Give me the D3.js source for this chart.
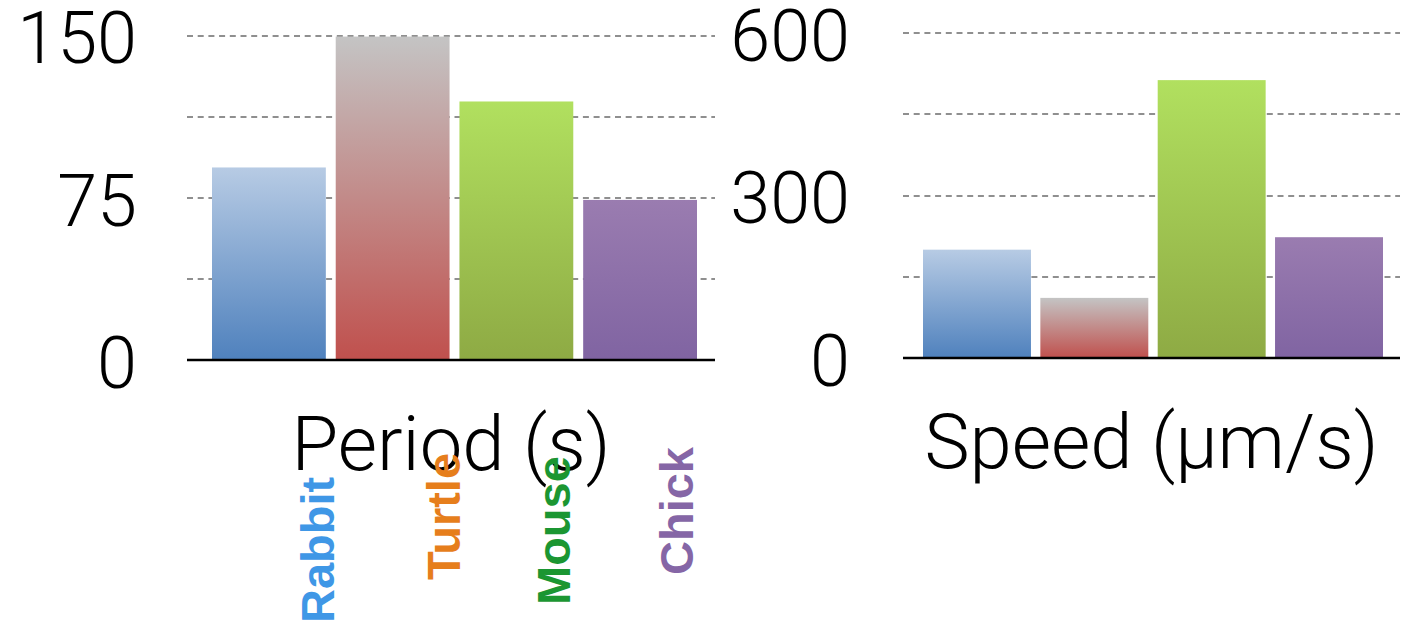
<!DOCTYPE html>
<html>
<head>
<meta charset="utf-8">
<script src="https://cdn.jsdelivr.net/npm/d3@7"></script>
<style>
  body { margin: 0; background: #fff; }
  .tick text { font-family: "Roboto", "Liberation Sans", sans-serif; font-weight: 300; }
</style>
</head>
<body>
<div id="chart"></div>
<script>
// values
const species = ["Rabbit", "Turtle", "Mouse", "Chick"];
const period = [89, 149.5, 119.5, 74];
const speed = [200, 111, 513, 223];
const periodTicks = [0, 75, 150];
const periodGrid = [0, 37.5, 75, 112.5, 150];
const speedTicks = [0, 300, 600];
const speedGrid = [0, 150, 300, 450, 600];
const labelColors = ["#3f97e6", "#e67e1c", "#1b9632", "#8566a6"];
const barColors = [
    ["#b7cbe4", "#4f81bd"],
    ["#c4c4c4", "#c0504d"],
    ["#b1e05f", "#8eaa44"],
    ["#9a7cb0", "#8064a2"]
];
// small layout nudges for the rotated species names (baseline x from band centre, start y)
const labelDx = [65, 67, 54, 53];
const labelY = [623, 580, 605, 575];

let width = 1403,
    height = 627;

let svg = d3.select("#chart")
    .append("svg")
    .attr("width", width)
    .attr("height", height);

let defs = svg.append("defs");
barColors.forEach(function (c, i) {
    let g = defs.append("linearGradient")
        .attr("id", "grad" + i)
        .attr("x1", 0).attr("y1", 0)
        .attr("x2", 0).attr("y2", 1);
    g.append("stop").attr("offset", "0%").attr("stop-color", c[0]);
    g.append("stop").attr("offset", "100%").attr("stop-color", c[1]);
});

function panel(opts) {
    let x = d3.scaleBand()
        .domain(species)
        .range(opts.barRange)
        .paddingInner(0.08)
        .paddingOuter(0);

    let y = d3.scaleLinear()
        .domain([0, opts.max])
        .range(opts.yRange);

    // dashed gridlines, snapped to whole pixels
    svg.append("g")
        .attr("transform", "translate(" + opts.left + ",0)")
        .call(d3.axisLeft(y).tickValues(opts.grid).tickSize(-(opts.right - opts.left)).tickFormat("").offset(0))
        .call(function (g) { g.select(".domain").remove(); })
        .call(function (g) {
            g.selectAll(".tick").attr("transform", function (d) {
                return "translate(0," + Math.round(y(d)) + ")";
            });
        })
        .selectAll(".tick line")
        .style("stroke", "#8f8f8f")
        .style("stroke-width", 2)
        .style("stroke-dasharray", "6,4.7");

    // bars
    svg.append("g")
        .selectAll("rect")
        .data(opts.values)
        .enter()
        .append("rect")
        .attr("x", function (d, i) { return x(species[i]); })
        .attr("width", x.bandwidth())
        .attr("y", function (d) { return y(d); })
        .attr("height", function (d) { return y(0) - y(d); })
        .style("fill", function (d, i) { return "url(#grad" + i + ")"; });

    // baseline
    svg.append("line")
        .attr("x1", opts.left)
        .attr("x2", opts.right)
        .attr("y1", y(0))
        .attr("y2", y(0))
        .style("stroke", "#000")
        .style("stroke-width", 2.6);

    // tick labels
    svg.append("g")
        .attr("transform", "translate(" + opts.left + ",0)")
        .call(d3.axisLeft(y).tickValues(opts.ticks).tickSize(0).tickPadding(opts.pad))
        .call(function (g) { g.select(".domain").remove(); })
        .selectAll(".tick text")
        .attr("dy", "0.38em")
        .style("font-size", "72px")
        .style("fill", "#000");

    // axis title
    svg.append("text")
        .attr("x", (opts.left + opts.right) / 2)
        .attr("y", opts.titleY)
        .attr("text-anchor", "middle")
        .style("font-family", "Roboto, 'Liberation Sans', sans-serif")
        .style("font-weight", 300)
        .style("font-size", "76px")
        .text(opts.title);

    return x;
}

let xl = panel({
    values: period, max: 150, ticks: periodTicks, grid: periodGrid,
    left: 187, right: 715, barRange: [212, 697], yRange: [360, 35.5],
    pad: 50, title: "Period (s)", titleY: 470
});

panel({
    values: speed, max: 600, ticks: speedTicks, grid: speedGrid,
    left: 903, right: 1400, barRange: [923, 1383], yRange: [358, 33],
    pad: 53, title: "Speed (μm/s)", titleY: 468
});

// rotated species names under the left panel
svg.append("g")
    .selectAll("text")
    .data(species)
    .enter()
    .append("text")
    .attr("transform", function (d, i) {
        return "translate(" + (xl(d) + xl.bandwidth() / 2 + labelDx[i]) + "," + labelY[i] + ") rotate(-90)";
    })
    .style("font-family", "'Liberation Sans', Arial, sans-serif")
    .style("font-weight", "bold")
    .style("font-size", "47px")
    .style("fill", function (d, i) { return labelColors[i]; })
    .text(function (d) { return d; });
</script>
</body>
</html>
